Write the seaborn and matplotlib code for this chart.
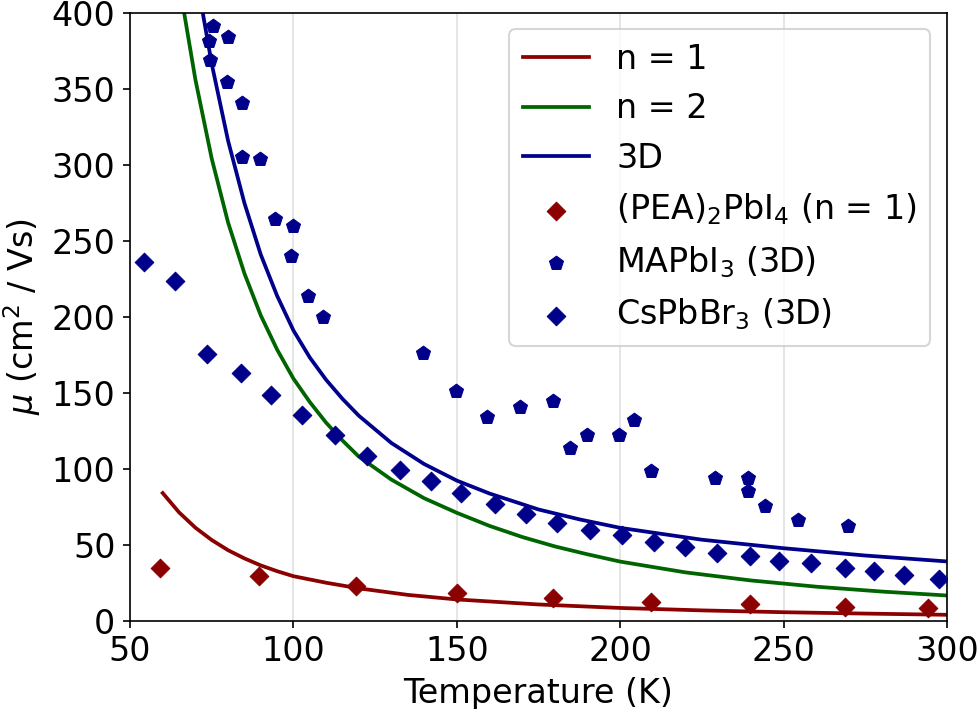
import matplotlib
matplotlib.use("Agg")
import matplotlib.pyplot as plt
import seaborn as sns

# model curves
t_n1 = [60, 65, 70, 75, 80, 85, 90, 95, 100, 110, 120, 135, 150, 175, 200, 225, 250, 275, 300]
mu_n1 = [84, 71.3, 61.2, 53.1, 46.4, 41.0, 36.4, 32.6, 29.3, 25.0, 21.3, 17.0, 14.0, 10.7, 8.4,
         6.8, 5.6, 4.7, 3.9]

t_n2 = [66, 70, 75, 80, 85, 90, 95, 100, 105, 110, 115, 120, 130, 140, 150, 160, 170, 180,
        190, 200, 220, 240, 260, 280, 300]
mu_n2 = [407, 356, 304, 262, 228.5, 200.9, 178.4, 159.3, 143.9, 130.3, 118.6, 108, 92.8, 80.6,
         71, 62.4, 55.1, 48.9, 43.7, 38.9, 31.8, 26.5, 22.4, 19.2, 16.6]

t_3d = [72, 75, 80, 85, 90, 95, 100, 105, 110, 115, 120, 130, 140, 150, 160, 175, 187.5, 200,
        225, 250, 275, 300]
mu_3d = [403, 366.4, 315.8, 274.8, 240.9, 213.8, 191, 173.2, 158.5, 146, 134.9, 116.9, 103.1,
         92.2, 83.7, 73.2, 66.7, 61.1, 53.3, 47.7, 42.9, 39.0]

# measured data
t_pea = [59.1, 89.4, 119.3, 150, 179.5, 209.3, 239.6, 268.7, 294.1]
mu_pea = [34.8, 29.3, 22.8, 18.2, 14.7, 12.3, 11.2, 9.2, 8.1]

t_mapbi = [75.3, 74.3, 74.5, 79.9, 79.6, 84.2, 84.2, 89.8, 94.3, 99.9, 99.2, 104.5, 108.9,
           139.5, 149.7, 159.1, 169.3, 179.5, 184.6, 189.7, 199.7, 204.3, 209.3, 228.9,
           239.1, 239.1, 244.2, 254.4, 269.7]
mu_mapbi = [391.5, 381.5, 369, 383.9, 354.3, 340.6, 304.9, 304, 264, 259.6, 240, 213.7, 199.9,
            175.9, 151.4, 134.3, 140.4, 144.4, 113.8, 121.9, 121.9, 132.2, 98.4, 93.8,
            93.8, 85.3, 75.5, 66.1, 62.3]

t_cspbbr = [54.3, 63.8, 73.7, 83.9, 93.1, 102.5, 112.7, 122.4, 132.6, 142, 151.4, 161.6, 171.3,
            180.7, 190.9, 200.4, 210.2, 219.7, 229.6, 239.6, 248.5, 258.5, 268.7, 277.8, 286.8, 297.5]
mu_cspbbr = [236.2, 223.6, 175.5, 162.7, 148.8, 135.6, 121.9, 108.7, 99.3, 91.9, 84, 77, 70,
             64.3, 59.5, 56.2, 51.8, 48.6, 44.6, 42.5, 39.4, 37.7, 35, 32.8, 30, 27.4]

plt.rcParams['font.size'] = 16

fig, ax = plt.subplots(figsize=(980/150, 709/150), dpi=150)
fig.subplots_adjust(left=0.1327, right=0.9663, top=0.982, bottom=0.1245)

sns.lineplot(x=t_n1, y=mu_n1, color='darkred', linewidth=1.8, label='n = 1', ax=ax)
sns.lineplot(x=t_n2, y=mu_n2, color='darkgreen', linewidth=1.8, label='n = 2', ax=ax)
sns.lineplot(x=t_3d, y=mu_3d, color='darkblue', linewidth=1.8, label='3D', ax=ax)

sns.scatterplot(x=t_pea, y=mu_pea, marker='D', s=40, color='darkred', edgecolor='darkred',
                linewidth=0.5, label=r'(PEA)$_2$PbI$_4$ (n = 1)', zorder=3, ax=ax)
sns.scatterplot(x=t_mapbi, y=mu_mapbi, marker='p', s=50, color='darkblue', edgecolor='darkblue',
                linewidth=0.5, label=r'MAPbI$_3$ (3D)', zorder=3, ax=ax)
sns.scatterplot(x=t_cspbbr, y=mu_cspbbr, marker='D', s=40, color='darkblue', edgecolor='darkblue',
                linewidth=0.5, label=r'CsPbBr$_3$ (3D)', zorder=3, ax=ax)

ax.set_xlim(50, 300)
ax.set_ylim(0, 400)
ax.set_xticks(range(50, 301, 50))
ax.set_yticks(range(0, 401, 50))
ax.grid(axis='x', color='#e0e0e0', linewidth=0.8)
ax.set_axisbelow(True)
ax.set_xlabel('Temperature (K)')
ax.set_ylabel(r'$\mu$ (cm$^2$ / Vs)')
ax.legend(loc='upper right')

fig.savefig('out.png', dpi=150)
